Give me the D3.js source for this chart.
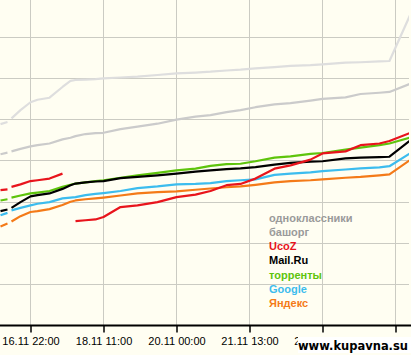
<!DOCTYPE html>
<html>
<head>
<meta charset="utf-8">
<script src="https://cdn.jsdelivr.net/npm/d3@7/dist/d3.min.js"></script>
<style>
  html, body { margin: 0; padding: 0; background: #fffef2; }
  svg { display: block; }
</style>
</head>
<body>
<svg id="chart" width="411" height="355"></svg>
<script>
// ---- data ----
const times = ["16.11 06:48","16.11 10:20","16.11 11:21","16.11 12:22","16.11 16:56","16.11 22:00",
  "17.11 01:33","17.11 07:38","17.11 14:13","17.11 18:16","17.11 20:49","18.11 01:53","18.11 06:57",
  "18.11 11:00","18.11 19:37","19.11 04:14","19.11 14:22","20.11 00:00","20.11 09:38","20.11 17:14",
  "21.11 01:20","21.11 08:26","21.11 16:02","22.11 01:40","22.11 09:47","22.11 19:55","23.11 02:00",
  "23.11 13:40","23.11 21:16","24.11 06:52","24.11 11:56","24.11 23:35"];

const odnoklassniki = [488,493,null,502,522,541,547,552,578,593,595,596,597,599,601,603,607,611,613,615,618,620,623,626,629,631,633,637,638,640,641,765];
const bashorg       = [415,419,null,422,428,434,437,441,451,455,459,464,466,467,476,482,489,499,506,510,517,522,529,536,539,545,549,553,561,564,566,588];
const ucoz          = [328,330,null,336,342,350,352,356,368,null,253,255,257,263,287,291,299,311,317,326,340,343,356,380,388,402,417,422,437,441,447,469];
const mailru        = [277,281,null,285,299,313,316,320,331,340,344,347,349,350,357,360,364,368,373,376,379,381,384,390,394,397,398,405,407,408,409,453];
const torrents      = [303,306,null,310,315,320,322,326,336,341,344,347,350,352,358,364,370,376,380,387,391,392,398,407,410,416,418,426,431,437,441,457];
const google        = [267,273,null,279,285,291,295,299,308,310,311,316,319,321,326,333,337,342,343,345,350,352,354,365,368,371,374,378,381,383,386,421];
const yandex        = [240,247,null,252,265,275,277,282,292,300,303,306,308,310,315,320,323,325,329,332,335,337,341,347,350,352,354,358,360,364,366,405];

const seriesNames  = ["одноклассники","башорг","UcoZ","Mail.Ru","торренты","Google","Яндекс"];
const lineColors   = ["#dedede","#cbcbcb","#e8141c","#000000","#5ec40c","#3cbcee","#f47a18"];
const legendColors = ["#9a9a9a","#9a9a9a","#e8141c","#000000","#5ec40c","#3cbcee","#f47a18"];
const seriesValues = [odnoklassniki, bashorg, ucoz, mailru, torrents, google, yandex];
const drawOrder    = [0, 1, 6, 5, 4, 3, 2];

const tickLabels = ["16.11 22:00","18.11 11:00","20.11 00:00","21.11 13:00","23.11 02:00","24.11 15:00"];
const gridValues = [100,200,300,400,500,600,700];
const watermark = "www.kupavna.su";

// ---- layout ----
const W = 411, H = 355;
const plotRight = 409, plotBottom = 325.5;
const parse = d3.timeParse("%d.%m %H:%M");
const tickDates = tickLabels.map(parse);
const dates = times.map(parse);

const x = d3.scaleTime()
  .domain([tickDates[0], tickDates[tickDates.length - 1]])
  .range([30.5, 395.5]);
const y = d3.scaleLinear().domain([0, 788.8]).range([plotBottom, 0]);

const svg = d3.select("#chart");
svg.append("rect").attr("width", W).attr("height", H).attr("fill", "#fffef2");

svg.append("defs").append("clipPath").attr("id", "plot")
  .append("rect").attr("x", 0).attr("y", 0).attr("width", plotRight).attr("height", plotBottom);

// grid
const grid = svg.append("g").attr("stroke", "#cbcbc3").attr("stroke-width", 1).attr("shape-rendering", "crispEdges");
grid.selectAll("line.h").data(gridValues).join("line")
  .attr("x1", 0).attr("x2", plotRight)
  .attr("y1", d => Math.round(y(d)) + 0.5).attr("y2", d => Math.round(y(d)) + 0.5);
grid.selectAll("line.v").data(tickDates).join("line")
  .attr("x1", d => Math.floor(x(d)) + 0.5).attr("x2", d => Math.floor(x(d)) + 0.5)
  .attr("y1", 0).attr("y2", plotBottom);

// lines
const lineGen = d3.line()
  .defined(d => d.v != null)
  .x(d => x(d.t))
  .y(d => y(d.v));

const gLines = svg.append("g").attr("clip-path", "url(#plot)");
drawOrder.forEach(i => {
  const pts = dates.map((t, k) => ({ t, v: seriesValues[i][k] }));
  gLines.append("path")
    .attr("d", lineGen(pts))
    .attr("fill", "none")
    .attr("stroke", lineColors[i])
    .attr("stroke-width", 2.2)
    .attr("stroke-linejoin", "round")
    .attr("stroke-linecap", "butt");
});

// x axis
const axis = d3.axisBottom(x)
  .tickValues(tickDates)
  .tickFormat((d, i) => tickLabels[i])
  .tickSize(7)
  .tickSizeOuter(0);
const gx = svg.append("g").attr("transform", `translate(0,${plotBottom})`).call(axis);
gx.select(".domain").attr("d", `M0,0H${plotRight + 2}`).attr("stroke", "#000").attr("stroke-width", 2);
gx.selectAll(".tick line").attr("stroke", "#000").attr("stroke-width", 1.5);
gx.selectAll(".tick text")
  .attr("y", 12)
  .attr("fill", "#000")
  .style("font-family", "'Liberation Sans', Arial, sans-serif")
  .style("font-size", "11px");

// legend
const legend = svg.append("g")
  .style("font-family", "'Liberation Sans', Arial, sans-serif")
  .style("font-size", "11px")
  .style("font-weight", "bold");
legend.selectAll("text").data(seriesNames).join("text")
  .attr("x", 269)
  .attr("y", (d, i) => 221.5 + i * 14.3)
  .attr("fill", (d, i) => legendColors[i])
  .text(d => d);

// watermark (covers the last tick labels, as in the original image)
svg.append("rect")
  .attr("x", 298).attr("y", 337).attr("width", W - 298).attr("height", 16)
  .attr("fill", "#ffffff");
svg.append("text")
  .attr("x", 408).attr("y", 350)
  .attr("text-anchor", "end")
  .attr("textLength", 110)
  .attr("lengthAdjust", "spacingAndGlyphs")
  .style("font-family", "'DejaVu Sans', Verdana, sans-serif")
  .style("font-size", "12.5px")
  .style("font-weight", "bold")
  .attr("fill", "#000")
  .attr("stroke", "#fff")
  .attr("stroke-width", 2.5)
  .attr("paint-order", "stroke")
  .text(watermark);
</script>
</body>
</html>
